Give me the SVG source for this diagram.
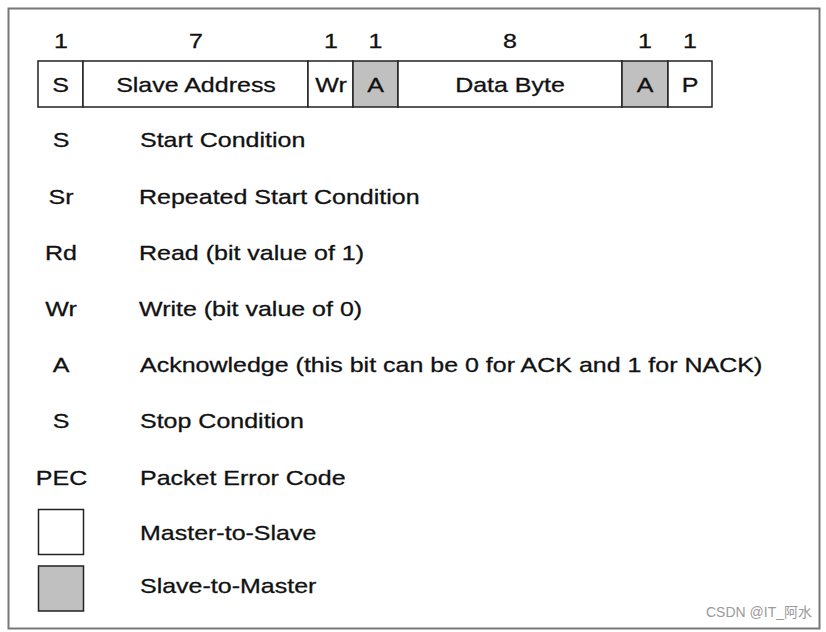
<svg xmlns="http://www.w3.org/2000/svg" width="826" height="632" viewBox="0 0 826 632">
<style>
.t{font-family:"Liberation Sans",Arial,sans-serif;font-size:21px;fill:#111;stroke:#111;stroke-width:0.3;}
.m{text-anchor:middle;}
.cell{fill:#fff;stroke:#222;stroke-width:1.5;}
.sl{fill:#c0c0c0;stroke:#222;stroke-width:1.5;}
.wm{font-family:"Liberation Sans","Noto Sans CJK SC",sans-serif;font-size:14px;fill:#9a9a9a;}
</style>
<rect x="0" y="0" width="826" height="632" fill="#fff"/>
<rect x="8.5" y="8.5" width="811" height="620" fill="#fff" stroke="#777" stroke-width="2"/>
<g id="bits">
<text class="t m" transform="translate(61,48) scale(1.19,1)">1</text>
<text class="t m" transform="translate(196,48) scale(1.19,1)">7</text>
<text class="t m" transform="translate(331,48) scale(1.19,1)">1</text>
<text class="t m" transform="translate(375.5,48) scale(1.19,1)">1</text>
<text class="t m" transform="translate(510,48) scale(1.19,1)">8</text>
<text class="t m" transform="translate(645,48) scale(1.19,1)">1</text>
<text class="t m" transform="translate(690,48) scale(1.19,1)">1</text>
</g>
<g id="frame-S"><rect class="cell" x="38" y="61" width="45" height="46"/><text class="t m" transform="translate(60.5,92) scale(1.19,1)">S</text></g>
<g id="frame-addr"><rect class="cell" x="83" y="61" width="225" height="46"/><text class="t m" transform="translate(196,92) scale(1.19,1)">Slave Address</text></g>
<g id="frame-wr"><rect class="cell" x="308" y="61" width="45" height="46"/><text class="t m" transform="translate(331,92) scale(1.19,1)">Wr</text></g>
<g id="frame-a1"><rect class="sl" x="353" y="61" width="45" height="46"/><text class="t m" transform="translate(375.5,92) scale(1.19,1)">A</text></g>
<g id="frame-data"><rect class="cell" x="398" y="61" width="224" height="46"/><text class="t m" transform="translate(510,92) scale(1.19,1)">Data Byte</text></g>
<g id="frame-a2"><rect class="sl" x="622" y="61" width="46" height="46"/><text class="t m" transform="translate(645,92) scale(1.19,1)">A</text></g>
<g id="frame-p"><rect class="cell" x="668" y="61" width="44" height="46"/><text class="t m" transform="translate(690,92) scale(1.19,1)">P</text></g>
<g id="legend">
<text class="t m" transform="translate(61,147) scale(1.19,1)">S</text>
<text class="t" transform="translate(140,147) scale(1.19,1)">Start Condition</text>
<text class="t m" transform="translate(61,203.5) scale(1.19,1)">Sr</text>
<text class="t" transform="translate(139,203.5) scale(1.19,1)">Repeated Start Condition</text>
<text class="t m" transform="translate(61,260) scale(1.19,1)">Rd</text>
<text class="t" transform="translate(139,260) scale(1.19,1)">Read (bit value of 1)</text>
<text class="t m" transform="translate(61,316) scale(1.19,1)">Wr</text>
<text class="t" transform="translate(139,316) scale(1.19,1)">Write (bit value of 0)</text>
<text class="t m" transform="translate(61,372) scale(1.19,1)">A</text>
<text class="t" transform="translate(140,372) scale(1.19,1)">Acknowledge (this bit can be 0 for ACK and 1 for NACK)</text>
<text class="t m" transform="translate(61,428) scale(1.19,1)">S</text>
<text class="t" transform="translate(140,428) scale(1.19,1)">Stop Condition</text>
<text class="t m" transform="translate(61.5,485) scale(1.19,1)">PEC</text>
<text class="t" transform="translate(140,485) scale(1.19,1)">Packet Error Code</text>
</g>
<g id="key-master"><rect class="cell" x="38.5" y="509.5" width="45" height="45"/><text class="t" transform="translate(140,540) scale(1.19,1)">Master-to-Slave</text></g>
<g id="key-slave"><rect class="sl" x="38.5" y="566" width="45" height="45"/><text class="t" transform="translate(140,593) scale(1.19,1)">Slave-to-Master</text></g>
<text class="wm" x="706" y="617">CSDN @IT_阿水</text>
</svg>
